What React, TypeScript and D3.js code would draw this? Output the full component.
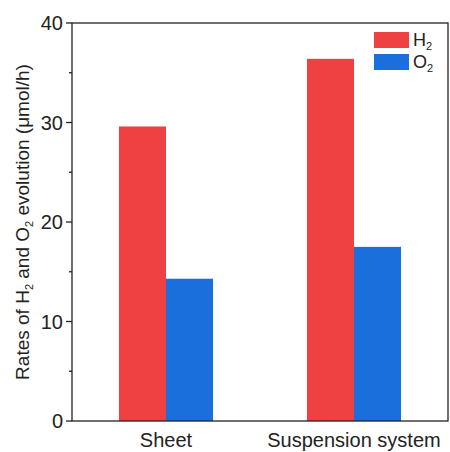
import React from "react";
import * as d3 from "d3";

const categories = ["Sheet", "Suspension system"];
const h2Values = [29.6, 36.4];
const o2Values = [14.3, 17.5];
const seriesNames = ["H", "O"];
const seriesColors = ["#ef4042", "#1a6fdc"];
const yTicks = [0, 10, 20, 30, 40];
const yMinorTicks = [5, 15, 25, 35];

export default function App() {
  const width = 450;
  const height = 452;
  const margin = { top: 23, right: 2, bottom: 31, left: 72 };

  const x = d3
    .scaleBand()
    .domain(categories)
    .range([margin.left, width - margin.right])
    .paddingInner(0.5)
    .paddingOuter(0.25);

  const y = d3
    .scaleLinear()
    .domain([0, 40])
    .range([height - margin.bottom, margin.top]);

  const barW = 47;
  const series = [h2Values, o2Values];
  const font = "Arial, 'Liberation Sans', sans-serif";
  const x0 = margin.left;
  const x1 = width - margin.right;
  const yb = y(0);
  const yt = y(40);

  return (
    <svg
      width={width}
      height={height}
      style={{ position: "absolute", left: 0, top: 0 }}
      fontFamily={font}
    >
      <rect width={width} height={height} fill="white" />
      {series.map((vals, si) =>
        categories.map((c, ci) => {
          const cx = (x(c) as number) + x.bandwidth() / 2;
          return (
            <rect
              key={`${si}-${ci}`}
              x={cx - barW + si * barW}
              y={y(vals[ci])}
              width={barW}
              height={yb - y(vals[ci])}
              fill={seriesColors[si]}
            />
          );
        })
      )}
      {/* frame */}
      <rect
        x={x0}
        y={yt}
        width={x1 - x0}
        height={yb - yt}
        fill="none"
        stroke="#222"
        strokeWidth={1.3}
      />
      {yTicks.map((t) => (
        <g key={t}>
          <line x1={x0 - 6} x2={x0} y1={y(t)} y2={y(t)} stroke="#222" strokeWidth={1.3} />
          <text
            x={x0 - 9}
            y={y(t)}
            dy="0.35em"
            textAnchor="end"
            fontSize={20}
            fill="#222"
          >
            {t}
          </text>
        </g>
      ))}
      {yMinorTicks.map((t) => (
        <line key={t} x1={x0 - 3} x2={x0} y1={y(t)} y2={y(t)} stroke="#222" strokeWidth={1.3} />
      ))}
      {categories.map((c) => (
        <text
          key={c}
          x={(x(c) as number) + x.bandwidth() / 2}
          y={yb + 26}
          textAnchor="middle"
          fontSize={20}
          fill="#222"
        >
          {c}
        </text>
      ))}
      <text
        transform={`translate(29,${(yb + yt) / 2}) rotate(-90)`}
        textAnchor="middle"
        fontSize={19}
        fill="#222"
      >
        Rates of H<tspan fontSize={11} dy={4}>2</tspan>
        <tspan dy={-4}> and O</tspan>
        <tspan fontSize={11} dy={4}>2</tspan>
        <tspan dy={-4}> evolution (μmol/h)</tspan>
      </text>
      {seriesNames.map((n, i) => (
        <g key={n} transform={`translate(374,${32 + i * 22})`}>
          <rect width={35} height={16} fill={seriesColors[i]} />
          <text x={39} y={8} dy="0.35em" fontSize={18} fill="#222">
            {n}
            <tspan fontSize={11} dy={4}>2</tspan>
          </text>
        </g>
      ))}
    </svg>
  );
}
